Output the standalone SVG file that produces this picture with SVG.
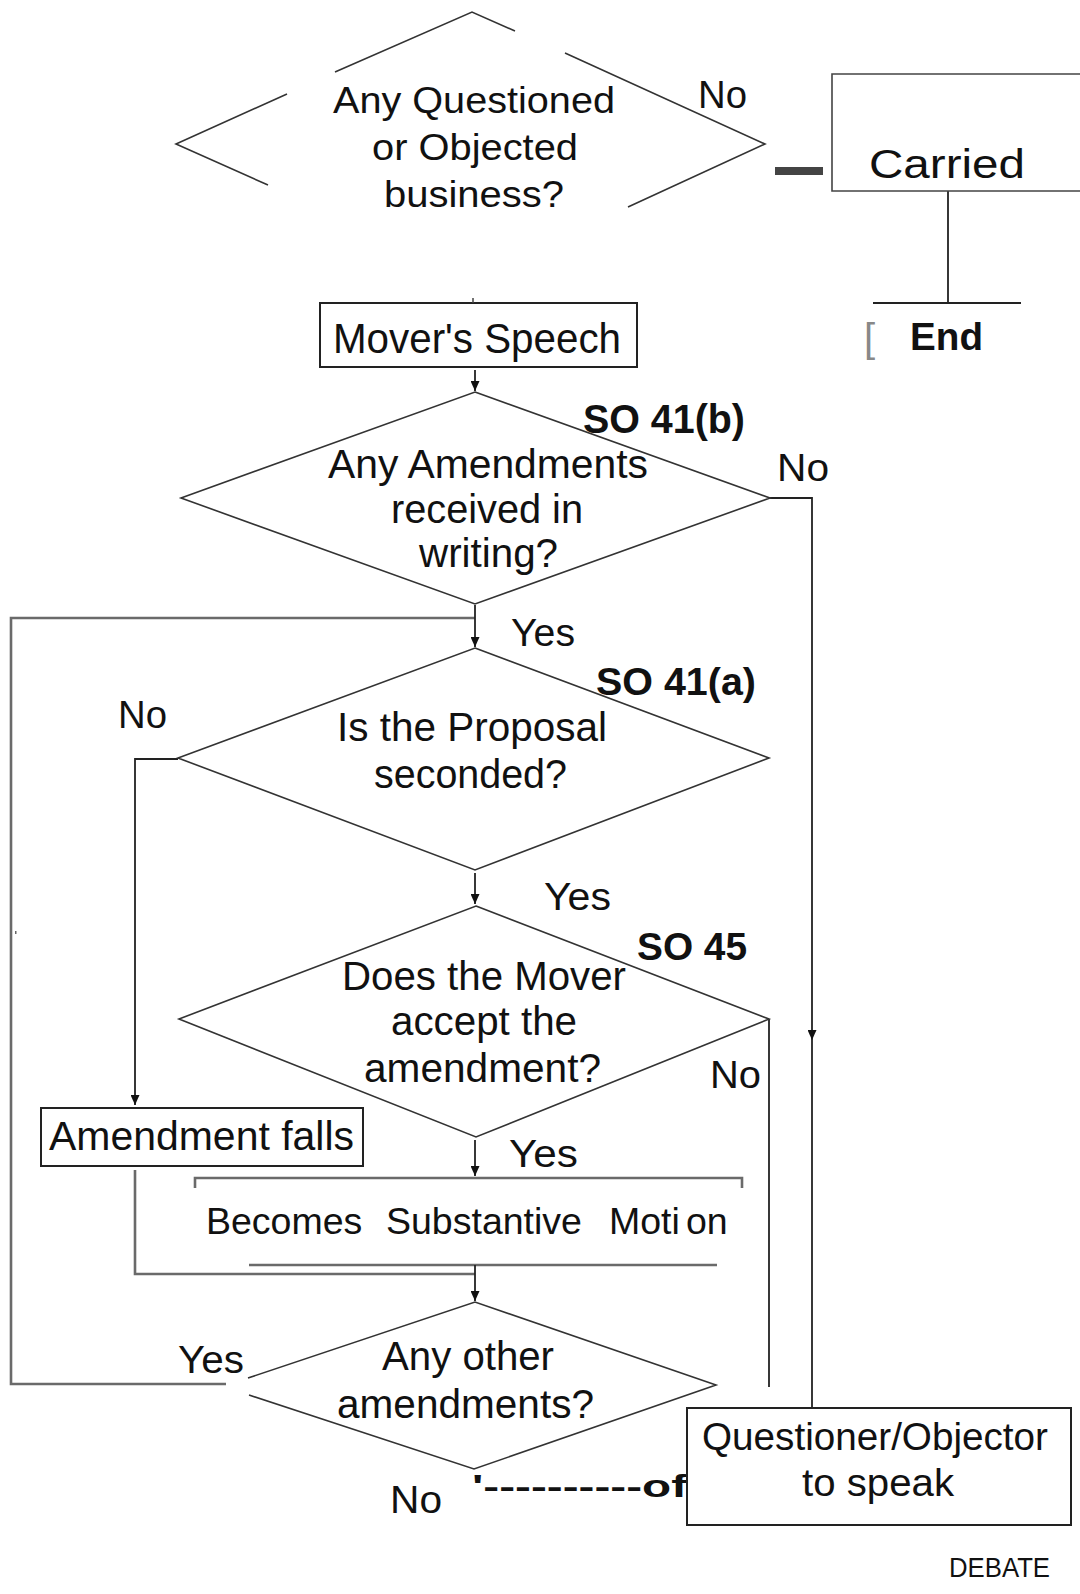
<svg xmlns="http://www.w3.org/2000/svg" width="1080" height="1594" viewBox="0 0 1080 1594">
<style>
.t{font-family:"Liberation Sans",Arial,sans-serif;fill:#111;}
.b{font-weight:bold;}
.ln{fill:none;stroke:#333;stroke-width:1.6;}
.gl{fill:none;stroke:#6a6a6a;stroke-width:2.6;}
.bx{fill:#fff;stroke:#222;stroke-width:2;}
.cn{fill:none;stroke:#222;stroke-width:1.8;}
</style>
<defs>
<marker id="arr" markerUnits="userSpaceOnUse" markerWidth="10" markerHeight="9" refX="10" refY="4.5" orient="auto">
<path d="M0,0 L10,4.5 L0,9 z" fill="#111"/>
</marker>
</defs>
<rect width="1080" height="1594" fill="#fff"/>

<g id="connectors">
<rect x="775" y="167" width="48" height="8" fill="#444"/>
<path class="cn" d="M948 191 V303 M873 303 H1021"/>
<path class="cn" d="M475 370 V391" marker-end="url(#arr)"/>
<path class="cn" d="M770 498 H812 V1040" marker-end="url(#arr)"/>
<path class="cn" d="M812 1040 V1408"/>
<path class="gl" d="M475 618 H11 V1384 H226"/>
<path class="cn" d="M475 605 V647" marker-end="url(#arr)"/>
<path class="cn" d="M178 759 H135 V1105" marker-end="url(#arr)"/>
<path class="cn" d="M475 873 V904" marker-end="url(#arr)"/>
<path class="cn" d="M769 1019 V1387"/>
<path class="cn" d="M475 1140 V1176" marker-end="url(#arr)"/>
<path class="gl" d="M135 1170 V1274 H475"/>
<path class="gl" d="M249 1265 H717"/>
<path class="cn" d="M475 1265 V1301" marker-end="url(#arr)"/>
<rect x="15" y="931" width="1.5" height="3" fill="#666"/>
</g>

<g id="node-questioned">
<path class="ln" d="M335 72 L472 12 L515 31 M565 53 L765 144 L628 207 M287 94 L176 144 L268 185"/>
<text class="t" x="333" y="113" font-size="36" textLength="282" lengthAdjust="spacingAndGlyphs">Any Questioned</text>
<text class="t" x="372" y="160" font-size="36" textLength="206" lengthAdjust="spacingAndGlyphs">or Objected</text>
<text class="t" x="384" y="207" font-size="36" textLength="180" lengthAdjust="spacingAndGlyphs">business?</text>
<text class="t" x="698" y="108" font-size="38" textLength="49" lengthAdjust="spacingAndGlyphs">No</text>
</g>

<g id="node-carried">
<path d="M1085 74 H832 V191 H1085" fill="#fff" stroke="#444" stroke-width="1.6"/>
<text class="t" x="869" y="178" font-size="40" textLength="156" lengthAdjust="spacingAndGlyphs">Carried</text>
</g>

<g id="node-end">
<text x="864" y="352" font-size="40" font-family="Liberation Sans, Arial, sans-serif" fill="#888">[</text>
<text class="t b" x="910" y="350" font-size="38" textLength="73" lengthAdjust="spacingAndGlyphs">End</text>
</g>

<g id="node-movers-speech">
<rect class="bx" x="320" y="303" width="317" height="64"/>
<line x1="473" y1="298" x2="473" y2="303" stroke="#444" stroke-width="1.5"/>
<text class="t" x="333" y="353" font-size="43" textLength="288" lengthAdjust="spacingAndGlyphs">Mover's Speech</text>
</g>

<g id="node-amendments-received">
<polygon class="ln" points="475,392 770,498 475,604 181,498" fill="#fff"/>
<text class="t" x="328" y="478" font-size="41" textLength="320" lengthAdjust="spacingAndGlyphs">Any Amendments</text>
<text class="t" x="391" y="523" font-size="41" textLength="192" lengthAdjust="spacingAndGlyphs">received in</text>
<text class="t" x="419" y="567" font-size="41" textLength="139" lengthAdjust="spacingAndGlyphs">writing?</text>
<text class="t b" x="583" y="433" font-size="40" textLength="162" lengthAdjust="spacingAndGlyphs">SO 41(b)</text>
<text class="t" x="777" y="481" font-size="38" textLength="52" lengthAdjust="spacingAndGlyphs">No</text>
</g>

<g id="node-seconded">
<polygon class="ln" points="475,648 769,758 475,870 178,758" fill="#fff"/>
<text class="t" x="337" y="741" font-size="40" textLength="270" lengthAdjust="spacingAndGlyphs">Is the Proposal</text>
<text class="t" x="374" y="788" font-size="40" textLength="193" lengthAdjust="spacingAndGlyphs">seconded?</text>
<text class="t b" x="596" y="695" font-size="39" textLength="160" lengthAdjust="spacingAndGlyphs">SO 41(a)</text>
<text class="t" x="118" y="728" font-size="38" textLength="49" lengthAdjust="spacingAndGlyphs">No</text>
<text class="t" x="511" y="646" font-size="38" textLength="64" lengthAdjust="spacingAndGlyphs">Yes</text>
</g>

<g id="node-mover-accept">
<polygon class="ln" points="476,906 769,1019 476,1137 179,1019" fill="#fff"/>
<text class="t" x="342" y="990" font-size="40" textLength="284" lengthAdjust="spacingAndGlyphs">Does the Mover</text>
<text class="t" x="391" y="1035" font-size="40" textLength="186" lengthAdjust="spacingAndGlyphs">accept the</text>
<text class="t" x="364" y="1082" font-size="40" textLength="237" lengthAdjust="spacingAndGlyphs">amendment?</text>
<text class="t b" x="637" y="960" font-size="38" textLength="110" lengthAdjust="spacingAndGlyphs">SO 45</text>
<text class="t" x="710" y="1088" font-size="38" textLength="51" lengthAdjust="spacingAndGlyphs">No</text>
<text class="t" x="544" y="910" font-size="38" textLength="67" lengthAdjust="spacingAndGlyphs">Yes</text>
<text class="t" x="509" y="1167" font-size="38" textLength="69" lengthAdjust="spacingAndGlyphs">Yes</text>
</g>

<g id="node-amendment-falls">
<rect class="bx" x="41" y="1108" width="322" height="58"/>
<text class="t" x="49" y="1150" font-size="40" textLength="305" lengthAdjust="spacingAndGlyphs">Amendment falls</text>
</g>

<g id="node-substantive">
<path class="gl" d="M195 1188 V1178 H742 V1188"/>
<text class="t" y="1234" font-size="37.5"><tspan x="206">Becomes</tspan><tspan x="386">Substantive</tspan><tspan x="609">Moti</tspan><tspan x="686">on</tspan></text>
</g>

<g id="node-other-amendments">
<path class="ln" d="M248 1378 L475 1302 L716 1385 L474 1469 L249 1395"/>
<text class="t" x="382" y="1370" font-size="40" textLength="172" lengthAdjust="spacingAndGlyphs">Any other</text>
<text class="t" x="337" y="1418" font-size="40" textLength="257" lengthAdjust="spacingAndGlyphs">amendments?</text>
<text class="t" x="178" y="1373" font-size="38" textLength="66" lengthAdjust="spacingAndGlyphs">Yes</text>
<text class="t" x="390" y="1513" font-size="38" textLength="52" lengthAdjust="spacingAndGlyphs">No</text>
<text class="t b" x="472" y="1497" font-size="32" textLength="215" lengthAdjust="spacingAndGlyphs">'----------of</text>
</g>

<g id="node-questioner">
<rect class="bx" x="687" y="1408" width="384" height="117"/>
<text class="t" x="702" y="1450" font-size="38" textLength="346" lengthAdjust="spacingAndGlyphs">Questioner/Objector</text>
<text class="t" x="802" y="1496" font-size="38" textLength="152" lengthAdjust="spacingAndGlyphs">to speak</text>
</g>

<g id="label-debate">
<text class="t" x="949" y="1577" font-size="28" textLength="101" lengthAdjust="spacingAndGlyphs">DEBATE</text>
</g>
</svg>
